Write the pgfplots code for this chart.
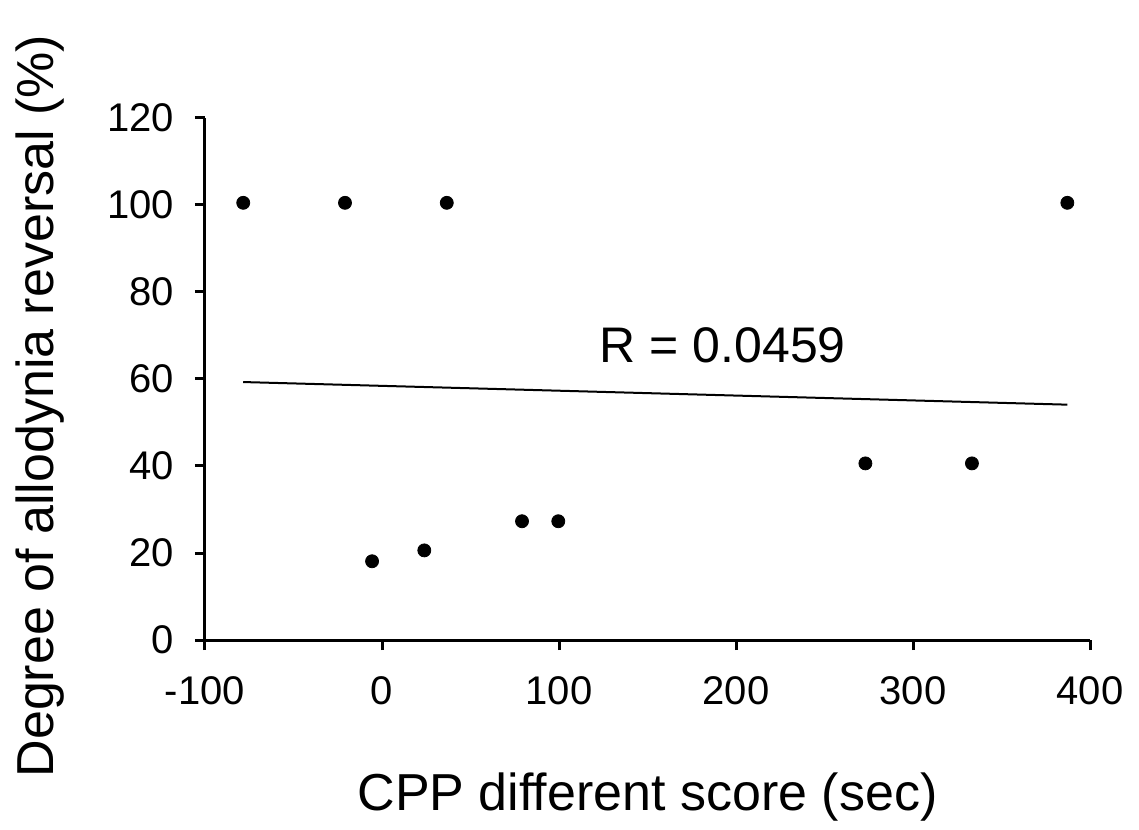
\documentclass[border=0pt]{standalone}
\usepackage{fontspec}
\setmainfont{Liberation Sans}
\usepackage{pgfplots}
\pgfplotsset{compat=1.18}

\begin{document}
\begin{tikzpicture}
\begin{axis}[
    scale only axis, width=442.5pt, height=261pt,
    xmin=-100, xmax=400, ymin=0, ymax=120,
    axis x line*=bottom, axis y line*=left,
    xtick={-100,0,...,400}, ytick={0,20,...,120},
    tick align=outside, major tick length=5pt,
    every tick/.style={black, line width=1.5pt},
    axis line style={black, line width=1.5pt},
    tick label style={font=\fontsize{20}{20}\selectfont},
    xticklabel style={yshift=-10pt},
    yticklabel style={xshift=-7pt},
    /pgf/number format/assume math mode=true,
    clip=false,
  ]
  % linear trend line
  \addplot[black, line width=1pt] coordinates {(-78.4,59.3) (387.2,54.1)};
  % observations
  \addplot[only marks, mark=*, mark size=3.25pt, black] coordinates {
    (-78.4,100.5) (-20.9,100.5) (36.6,100.5) (387.2,100.5)
    (-5.6,18.1) (23.9,20.6) (79.1,27.3) (99.6,27.3)
    (273.1,40.6) (333.3,40.6)
  };
  \node[anchor=base west, font=\fontsize{25}{25}\selectfont] at (axis cs:119,63.7) {R = 0.0459};
\end{axis}
\node[anchor=base, font=\fontsize{26}{26}\selectfont] at (221.25pt,-85pt) {CPP different score (sec)};
\node[rotate=90, font=\fontsize{26}{26}\selectfont] at (-82.5pt,117pt) {Degree of allodynia reversal (\%)};
\pgfresetboundingbox
\path[use as bounding box] (-102.5pt,-94.5pt) rectangle (467pt,320pt);
\end{tikzpicture}
\end{document}
